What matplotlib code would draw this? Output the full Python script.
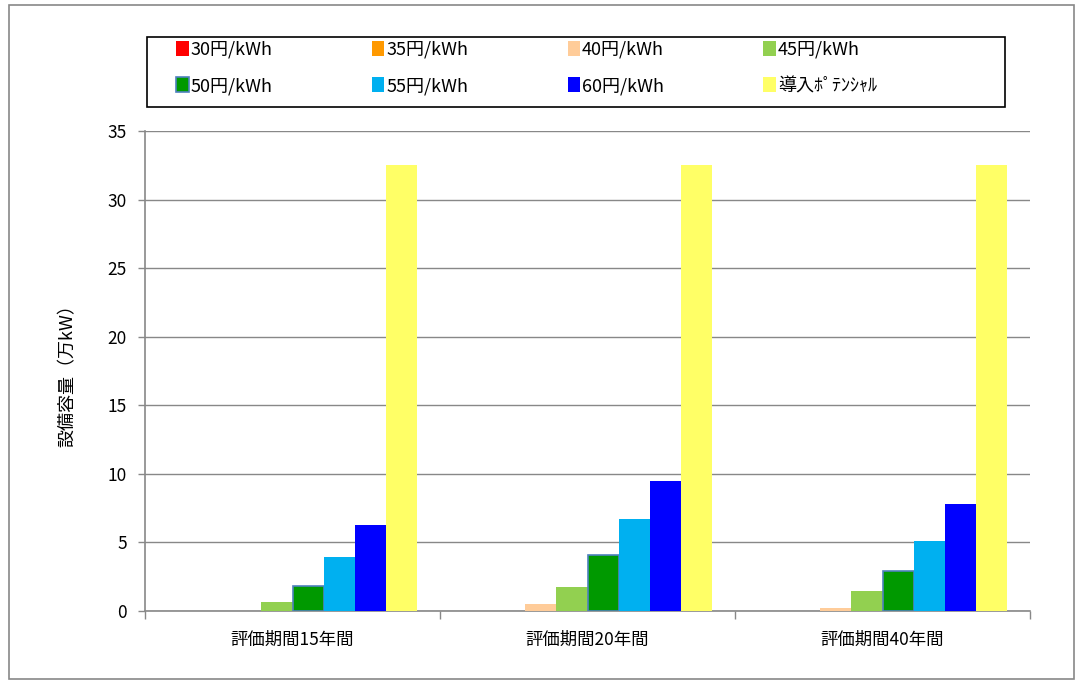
import matplotlib.pyplot as plt
import numpy as np
from matplotlib.patches import Rectangle

plt.rcParams['font.family'] = ['Noto Sans CJK JP', 'DejaVu Sans']

categories = ["評価期間15年間", "評価期間20年間", "評価期間40年間"]
series_names = ["30円/kWh", "35円/kWh", "40円/kWh", "45円/kWh",
                "50円/kWh", "55円/kWh", "60円/kWh", "導入ﾎﾟﾃﾝｼｬﾙ"]
yen30 = [0, 0, 0]
yen35 = [0, 0, 0]
yen40 = [0, 0.5, 0.2]
yen45 = [0.63, 1.73, 1.46]
yen50 = [1.85, 4.1, 2.94]
yen55 = [3.94, 6.7, 5.1]
yen60 = [6.3, 9.5, 7.8]
potential = [32.5, 32.5, 32.5]
colors = ["#FF0000", "#FF9900", "#FFCC99", "#92D050",
          "#009900", "#00B0F0", "#0000FF", "#FFFF66"]

series = [yen30, yen35, yen40, yen45, yen50, yen55, yen60, potential]

W, H = 1083, 684
fig = plt.figure(figsize=(W / 100, H / 100), dpi=100)
ax = fig.add_axes([145 / W, 1 - 611 / H, 885 / W, 480 / H])

x = np.arange(len(categories))
w = 1 / 9.5
handles = []
for i, (vals, c, name) in enumerate(zip(series, colors, series_names)):
    off = (i - 3.5) * w
    ec = "#4F81BD" if name == "50円/kWh" else c
    lw = 1.2 if name == "50円/kWh" else 0
    b = ax.bar(x + off, vals, w, color=c, edgecolor=ec, linewidth=lw, label=name, zorder=3)
    handles.append(b)

ax.set_xlim(-0.5, 2.5)
ax.set_ylim(0, 35)
ax.set_yticks(np.arange(0, 36, 5))
ax.yaxis.grid(True, color="#888888", linewidth=1, zorder=0)
ax.set_xticks(x)
ax.set_xticklabels(categories, fontsize=12.5)
ax.set_xticks([-0.5, 0.5, 1.5, 2.5], minor=True)
ax.tick_params(axis='x', which='major', length=0, pad=14)
ax.tick_params(axis='x', which='minor', length=6, color="#888888", width=1)
ax.tick_params(axis='y', labelsize=12.5, length=5, color="#888888", width=1, pad=8)
for s in ["top", "right"]:
    ax.spines[s].set_visible(False)
for s in ["left", "bottom"]:
    ax.spines[s].set_color("#888888")
    ax.spines[s].set_linewidth(1.2)
ax.set_ylabel("設備容量（万kW）", fontsize=13, labelpad=22)

# legend row-wise order: matplotlib fills column-wise
order = [0, 4, 1, 5, 2, 6, 3, 7]
leg = fig.legend([handles[i] for i in order], [series_names[i] for i in order],
                 ncol=4, loc="upper left", bbox_to_anchor=(176 / W, 1 - 41 / H),
                 fontsize=13, frameon=False, handlelength=0.7, handleheight=0.9,
                 handletextpad=0.1, borderpad=0, labelspacing=1.0,
                 columnspacing=5.5, borderaxespad=0)

fig.patches.append(Rectangle((147 / W, 1 - 107 / H), 858 / W, 70 / H, transform=fig.transFigure,
                             fill=False, edgecolor="black", linewidth=1.2))
fig.patches.append(Rectangle((0.008, 0.008), 0.984, 0.984, transform=fig.transFigure,
                             fill=False, edgecolor="#888888", linewidth=1.2))

fig.savefig("out.png", dpi=100)
